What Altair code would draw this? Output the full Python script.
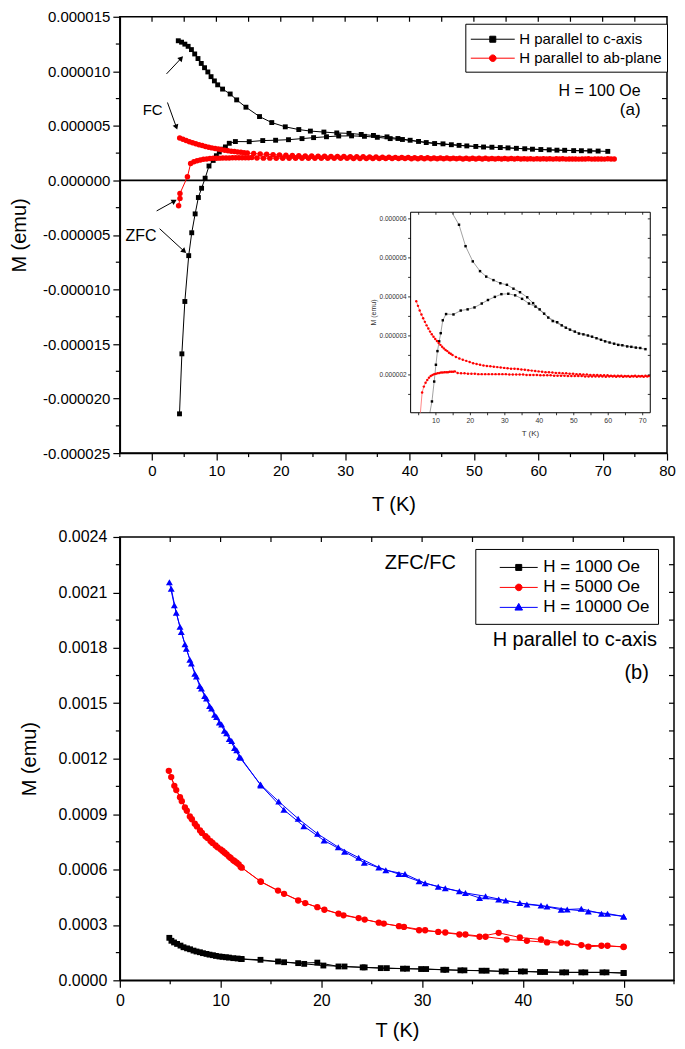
import math
import altair as alt
import pandas as pd

FONT = "Liberation Sans"

# ================= Panel (a): H = 100 Oe  (T in K, M in 1e-6 emu) =================
c_fc_T = [4.08, 4.59, 5.10, 5.61, 6.12, 6.63, 7.14, 7.65, 8.16, 8.67, 9.17, 9.69, 10.20, 10.96,
          12.14, 13.15, 14.59, 16.70, 18.60, 20.70, 22.80, 24.60, 26.70, 28.70, 30.60, 32.50,
          34.40, 36.50, 38.20, 40.10, 42.60, 45.20, 47.70, 50.30, 52.80, 55.30, 57.90, 60.40,
          62.90, 65.50, 68.00, 70.80]
c_fc_M = [12.80, 12.67, 12.49, 12.29, 11.99, 11.59, 11.17, 10.72, 10.33, 9.94, 9.51, 9.12, 8.76,
          8.37, 7.92, 7.38, 6.71, 5.85, 5.30, 4.91, 4.66, 4.52, 4.43, 4.35, 4.31, 4.21, 4.12, 3.99,
          3.84, 3.68, 3.47, 3.35, 3.21, 3.11, 3.04, 2.98, 2.90, 2.83, 2.77, 2.73, 2.70, 2.66]
c_zfc_T = [4.27, 4.64, 5.10, 5.70, 6.17, 6.70, 7.20, 7.70, 8.25, 8.85, 9.50, 10.00, 10.45, 10.95,
           11.40, 12.00, 12.95, 15.10, 17.20, 19.20, 21.20, 23.30, 25.10, 27.10, 29.00, 31.00,
           33.00, 35.00, 37.00, 38.90, 41.40, 43.90, 46.50, 48.90, 51.50, 54.10, 56.60, 59.10,
           61.70, 64.10, 66.70, 69.30]
c_zfc_M = [-21.40, -15.90, -11.10, -6.90, -4.80, -3.07, -1.57, -0.72, 0.20, 1.32, 1.83, 2.26,
           2.61, 2.86, 3.07, 3.40, 3.56, 3.55, 3.65, 3.68, 3.73, 3.83, 3.92, 4.00, 4.07, 4.08,
           4.04, 3.95, 3.83, 3.75, 3.57, 3.38, 3.27, 3.16, 3.06, 3.01, 2.94, 2.86, 2.80, 2.76,
           2.72, 2.69]
ab_fc_T = [4.3, 4.8, 5.3, 5.8, 6.3, 6.8, 7.3, 7.8, 8.3, 8.8, 9.3, 9.8, 10.3, 10.8, 11.3, 11.8,
           12.3, 12.8, 13.3, 13.8, 14.3, 14.8, 15.8, 16.8, 17.8, 18.8, 19.8, 20.8, 21.8, 22.8,
           23.8, 24.8, 25.8, 26.8, 27.8, 28.8, 29.8, 30.8, 31.8, 32.8, 33.8, 34.8, 35.8, 36.8,
           37.8, 38.8, 39.8, 40.8, 41.8, 42.8, 43.8, 44.8, 45.8, 46.8, 47.8, 48.8, 49.8, 50.8,
           51.8, 52.8, 53.8, 54.8, 55.8, 56.8, 57.8, 58.8, 59.8, 60.8, 61.8, 62.8, 63.8, 64.8,
           65.8, 66.8, 67.8, 68.8, 69.8, 70.8, 71.8]
ab_fc_M = [3.89, 3.77, 3.65, 3.55, 3.45, 3.36, 3.27, 3.19, 3.11, 3.04, 2.98, 2.92, 2.87, 2.82,
           2.77, 2.72, 2.68, 2.64, 2.61, 2.57, 2.54, 2.51, 2.46, 2.42, 2.39, 2.36, 2.33, 2.30,
           2.28, 2.26, 2.24, 2.23, 2.22, 2.21, 2.20, 2.19, 2.18, 2.17, 2.16, 2.16, 2.15, 2.14,
           2.13, 2.12, 2.11, 2.10, 2.09, 2.08, 2.07, 2.07, 2.06, 2.05, 2.05, 2.04, 2.04, 2.03,
           2.03, 2.02, 2.02, 2.01, 2.01, 2.00, 2.00, 2.00, 1.99, 1.99, 1.99, 1.98, 1.98, 1.98,
           1.98, 1.97, 1.97, 1.97, 1.98, 1.97, 1.97, 1.98, 1.97]
ab_zfc_T = [4.13, 4.34, 4.34, 5.5, 6.0, 6.5, 7.0, 7.5, 8.0, 8.5, 9.0, 9.5, 10.0, 10.5, 11.0, 11.5,
            12.0, 12.5, 13.0, 13.5, 14.0, 14.5, 15.0, 15.5, 16.3, 17.3, 18.3, 19.3, 20.3, 21.3,
            22.3, 23.3, 24.3, 25.3, 26.3, 27.3, 28.3, 29.3, 30.3, 31.3, 32.3, 33.3, 34.3, 35.3,
            36.3, 37.3, 38.3, 39.3, 40.3, 41.3, 42.3, 43.3, 44.3, 45.3, 46.3, 47.3, 48.3, 49.3,
            50.3, 51.3, 52.3, 53.3, 54.3, 55.3, 56.3, 57.3, 58.3, 59.3, 60.3, 61.3, 62.3, 63.3,
            64.3, 65.3, 66.3, 67.3, 68.3, 69.3, 70.3, 71.3]
ab_zfc_M = [-2.32, -1.65, -1.20, 0.33, 1.55, 1.70, 1.80, 1.87, 1.93, 1.97, 2.00, 2.02, 2.03, 2.04,
            2.05, 2.06, 2.06, 2.07, 2.07, 2.07, 2.08, 2.08, 2.08, 2.09, 2.05, 2.04, 2.04, 2.03,
            2.03, 2.03, 2.02, 2.02, 2.02, 2.02, 2.02, 2.02, 2.02, 2.02, 2.02, 2.01, 2.01, 2.01,
            2.01, 2.01, 2.00, 2.00, 2.00, 2.00, 1.99, 1.99, 1.99, 1.99, 1.98, 1.98, 1.98, 1.98,
            1.97, 1.97, 1.97, 1.97, 1.97, 1.96, 1.96, 1.96, 1.96, 1.96, 1.96, 1.95, 1.96, 1.96,
            1.95, 1.96, 1.95, 1.96, 1.95, 1.96, 1.95, 1.96, 1.95, 1.96]

# annotations of panel (a)
arrow_T1 = [2.25, 2.40, 0.72, 1.18]
arrow_M1 = [9.76, 7.14, -2.80, -4.43]
arrow_T2 = [4.54, 3.78, 3.47, 5.00]
arrow_M2 = [11.20, 4.88, -1.90, -6.50]
a_right_text = ["H = 100 Oe", "(a)"]
a_right_T = [75.9, 75.9]
a_right_M = [8.22, 6.41]
a_right_size = [16, 17]
a_mid_text = ["FC", "ZFC"]
a_mid_T = [0.1, -1.7]
a_mid_M = [6.41, -5.06]
a_mid_size = [15, 16]
names_a = ["H parallel to c-axis", "H parallel to ab-plane"]

# ticks of panel (a)
a_x_major = [0, 10, 20, 30, 40, 50, 60, 70, 80]
a_x_minor = [-5, 5, 15, 25, 35, 45, 55, 65, 75]
a_y_major = [-25, -20, -15, -10, -5, 0, 5, 10, 15]
a_y_minor = [-22.5, -17.5, -12.5, -7.5, -2.5, 2.5, 7.5, 12.5]
a_top = [0, 5, 10, 15, 20, 25, 30, 35, 40, 45, 50, 55, 60, 65, 70, 75]
a_right = [-22.5, -20, -17.5, -15, -12.5, -10, -7.5, -5, -2.5, 0, 2.5, 5, 7.5, 10, 12.5]
# inset axes
i_x_ticks = [5, 10, 15, 20, 25, 30, 35, 40, 45, 50, 55, 60, 65, 70]
i_x_label_vals = [10, 20, 30, 40, 50, 60, 70]
i_x_labels = ["10", "20", "30", "40", "50", "60", "70"]
i_y_ticks = [1.5, 2, 2.5, 3, 3.5, 4, 4.5, 5, 5.5, 6]
i_y_label_vals = [2, 3, 4, 5, 6]
i_y_labels = ["0.000002", "0.000003", "0.000004", "0.000005", "0.000006"]

# ================= Panel (b): H parallel to c-axis (T in K, M in 1e-4 emu) =================
b1_zfc_T = [4.91, 5.38, 6.02, 6.67, 7.31, 7.95, 8.60, 9.24, 9.89, 10.53, 11.26, 12.03, 13.96,
            15.70, 17.70, 19.60, 21.70, 24.10, 25.90, 28.10, 29.90, 32.10, 33.80, 35.90, 37.90,
            39.80, 41.70, 43.90, 45.80, 47.90, 50.00]
b1_zfc_M = [2.30, 2.05, 1.88, 1.73, 1.61, 1.52, 1.43, 1.36, 1.29, 1.25, 1.20, 1.16, 1.11, 1.02,
            0.93, 0.96, 0.75, 0.70, 0.66, 0.63, 0.61, 0.57, 0.54, 0.52, 0.48, 0.48, 0.45, 0.43,
            0.43, 0.43, 0.39]
b1_fc_T = [5.12, 5.68, 6.32, 6.97, 7.61, 8.25, 8.90, 9.54, 10.19, 10.83, 11.69, 12.10, 16.30,
           18.30, 20.20, 22.30, 24.30, 26.50, 28.50, 30.40, 32.40, 34.20, 36.40, 38.30, 40.20,
           42.20, 44.30, 46.20, 48.30, 50.00]
b1_fc_M = [2.14, 1.97, 1.79, 1.68, 1.56, 1.47, 1.39, 1.32, 1.27, 1.23, 1.18, 1.15, 0.98, 0.89,
           0.80, 0.75, 0.70, 0.66, 0.63, 0.61, 0.57, 0.54, 0.52, 0.48, 0.48, 0.45, 0.43, 0.43,
           0.43, 0.40]
b5_zfc_T = [4.86, 5.41, 5.97, 6.46, 6.95, 7.44, 7.96, 8.50, 9.00, 9.50, 10.00, 10.40, 10.83,
            11.25, 11.60, 12.00, 13.96, 15.70, 17.70, 19.60, 21.70, 23.70, 25.70, 27.70, 29.70,
            31.60, 33.70, 35.70, 37.60, 39.70, 41.80, 43.80, 45.80, 47.80, 50.00]
b5_zfc_M = [11.34, 10.53, 9.91, 9.36, 8.87, 8.48, 8.11, 7.80, 7.54, 7.30, 7.09, 6.91, 6.70, 6.50,
            6.37, 6.14, 5.36, 4.86, 4.32, 3.96, 3.61, 3.37, 3.12, 2.93, 2.71, 2.62, 2.48, 2.36,
            2.57, 2.32, 2.21, 2.04, 1.91, 1.87, 1.82]
b5_fc_T = [5.10, 5.60, 6.15, 6.65, 7.15, 7.65, 8.15, 8.70, 9.20, 9.70, 10.20, 10.60, 11.00,
           11.40, 11.80, 12.10, 14.00, 16.30, 18.40, 20.30, 22.20, 24.30, 26.20, 28.20, 30.30,
           32.30, 34.30, 36.30, 38.40, 40.40, 42.40, 44.40, 46.50, 48.40, 50.00]
b5_fc_M = [11.00, 10.30, 9.70, 9.18, 8.72, 8.33, 7.98, 7.70, 7.44, 7.20, 7.00, 6.82, 6.62, 6.45,
           6.28, 6.10, 5.33, 4.68, 4.18, 3.82, 3.52, 3.29, 3.07, 2.89, 2.71, 2.59, 2.48, 2.36,
           2.21, 2.14, 2.05, 2.00, 1.82, 1.87, 1.80]
b10_zfc_T = [4.92, 5.41, 5.97, 6.46, 6.95, 7.44, 7.93, 8.42, 8.91, 9.40, 9.88, 10.37, 10.86,
             11.38, 11.87, 13.96, 15.77, 17.70, 19.62, 21.68, 23.70, 25.70, 27.70, 29.70, 31.60,
             33.70, 35.70, 37.60, 39.70, 41.80, 43.80, 45.80, 47.80, 50.00]
b10_zfc_M = [21.55, 20.30, 19.14, 18.19, 17.35, 16.60, 15.93, 15.39, 14.85, 14.37, 13.96, 13.51,
             13.07, 12.57, 12.09, 10.60, 9.68, 8.75, 7.93, 7.21, 6.64, 6.11, 5.75, 5.36, 5.07,
             4.82, 4.46, 4.37, 4.18, 4.05, 3.82, 3.87, 3.61, 3.46]
b10_fc_T = [5.10, 5.60, 6.10, 6.60, 7.10, 7.60, 8.10, 8.60, 9.10, 9.60, 10.10, 10.60, 11.10,
            11.60, 12.00, 14.00, 16.28, 18.26, 20.27, 22.30, 24.26, 26.40, 28.30, 30.30, 32.30,
            34.30, 36.30, 38.30, 40.40, 42.40, 44.40, 46.50, 48.40, 50.00]
b10_fc_M = [21.20, 19.90, 18.85, 17.95, 17.15, 16.45, 15.80, 15.25, 14.72, 14.25, 13.85, 13.38,
            12.95, 12.45, 12.05, 10.55, 9.23, 8.34, 7.57, 6.96, 6.37, 5.96, 5.75, 5.25, 4.98,
            4.73, 4.55, 4.32, 4.11, 4.00, 3.84, 3.73, 3.61, 3.46]
names_b = ["H = 1000 Oe", "H = 5000 Oe", "H = 10000 Oe"]
b_text_left = ["ZFC/FC"]
b_left_T = [26.3]
b_left_M = [22.6]
b_text_right = ["H parallel to c-axis", "(b)"]
b_right_T = [53.3, 52.5]
b_right_M = [18.40, 16.65]

b_x_major = [0, 10, 20, 30, 40, 50]
b_x_minor = [5, 15, 25, 35, 45, 55]
b_y_major = [0, 3, 6, 9, 12, 15, 18, 21, 24]
b_y_minor = [1.5, 4.5, 7.5, 10.5, 13.5, 16.5, 19.5, 22.5]
b_top = [5, 10, 15, 20, 25, 30, 35, 40, 45, 50]
b_right = [1.5, 3, 4.5, 6, 7.5, 9, 10.5, 12, 13.5, 15, 16.5, 18, 19.5, 21, 22.5]

# ================= layout / style =================
W1, H1 = 548, 437
W2, H2 = 555, 444
XA_DOM = [-5, 80]
YA_DOM = [-25e-6, 15e-6]
XI_DOM = [2.66, 72.2]
YI_DOM = [1.03e-6, 6.17e-6]
INSET_T = [40.17, 77.4]
INSET_M = [-21.3e-6, -2.92e-6]
XB_DOM = [0, 55]
YB_DOM = [0, 0.0024]

SQ = "M-2.2,0H2.2M-0.3,-0.3H0.3V0.3H-0.3Z"
CI = "M-2.2,0H2.2M0.33,0A0.33,0.33,0,1,1,-0.33,0A0.33,0.33,0,1,1,0.33,0Z"
SQ_B = "M-1.9,0H1.9M-0.3,-0.3H0.3V0.3H-0.3Z"
CI_B = "M-1.9,0H1.9M0.33,0A0.33,0.33,0,1,1,-0.33,0A0.33,0.33,0,1,1,0.33,0Z"
TR_B = "M-1.9,0H1.9M0,-0.4L0.38,0.27H-0.38Z"


def px_x(T):
    return (T - XA_DOM[0]) / (XA_DOM[1] - XA_DOM[0]) * W1


def px_y(M):
    return (YA_DOM[1] - M) / (YA_DOM[1] - YA_DOM[0]) * H1


ix0, ix1 = px_x(INSET_T[0]), px_x(INSET_T[1])
iy0, iy1 = px_y(INSET_M[0]), px_y(INSET_M[1])


def curve(T, M, factor, branch):
    return pd.DataFrame({"T": T, "M": [m * factor for m in M], "branch": branch,
                         "i": list(range(len(T)))})


# ---------- panel (a) encodings ----------
scA_x = alt.Scale(domain=XA_DOM, nice=False, zero=False)
scA_y = alt.Scale(domain=YA_DOM, nice=False, zero=False)
axA_x = alt.Axis(values=a_x_major, title="T (K)", labelFontSize=15, titleFontSize=20, tickSize=7,
                 tickWidth=1.2, labelPadding=3, titlePadding=16, labelFlush=False, domainWidth=1.5,
                 grid=False)
axA_y = alt.Axis(values=[round(v * 1e-6, 9) for v in a_y_major],
                 labelExpr="replace(format(datum.value, '.6f'), '\u2212', '-')",
                 title="M (emu)", labelFontSize=15, titleFontSize=20, tickSize=7, tickWidth=1.2,
                 labelPadding=3, titlePadding=13, domainWidth=1.5, grid=False)


def xA(f="T"):
    return alt.X(f"{f}:Q", scale=scA_x, axis=axA_x)


def yA(f="M"):
    return alt.Y(f"{f}:Q", scale=scA_y, axis=axA_y)


c_df = pd.concat([curve(c_fc_T, c_fc_M, 1e-6, "FC"), curve(c_zfc_T, c_zfc_M, 1e-6, "ZFC")])
ab_df = pd.concat([curve(ab_fc_T, ab_fc_M, 1e-6, "FC"), curve(ab_zfc_T, ab_zfc_M, 1e-6, "ZFC")])

zero_rule = alt.Chart(pd.DataFrame({"M": [0.0]})).mark_rule(color="black", strokeWidth=1.6).encode(y=yA())
c_line = alt.Chart(c_df).mark_line(color="black", strokeWidth=1).encode(
    x=xA(), y=yA(), detail="branch:N", order="i:Q")
c_pts = alt.Chart(c_df).mark_square(color="black", size=24, opacity=1).encode(x=xA(), y=yA())
ab_line = alt.Chart(ab_df).mark_line(color="red", strokeWidth=1).encode(
    x=xA(), y=yA(), detail="branch:N", order="i:Q")
ab_pts = alt.Chart(ab_df).mark_circle(color="red", size=30, opacity=1).encode(x=xA(), y=yA())

tickA_xmin = alt.Chart(pd.DataFrame({"T": a_x_minor})).mark_rule(color="black", strokeWidth=1.2).encode(
    x=xA(), y=alt.value(H1), y2=alt.value(H1 + 4))
tickA_ymin = alt.Chart(pd.DataFrame({"M": [v * 1e-6 for v in a_y_minor]})).mark_rule(
    color="black", strokeWidth=1.2).encode(y=yA(), x=alt.value(0), x2=alt.value(-4))
tickA_top = alt.Chart(pd.DataFrame({"T": a_top})).mark_rule(color="black", strokeWidth=1.2).encode(
    x=xA(), y=alt.value(0), y2=alt.value(5))
tickA_right = alt.Chart(pd.DataFrame({"M": [v * 1e-6 for v in a_right]})).mark_rule(
    color="black", strokeWidth=1.2).encode(y=yA(), x=alt.value(W1), x2=alt.value(W1 - 5))

pxT = W1 / (XA_DOM[1] - XA_DOM[0])
pxM = H1 / (YA_DOM[1] - YA_DOM[0])
angles = []
for t1, m1, t2, m2 in zip(arrow_T1, arrow_M1, arrow_T2, arrow_M2):
    dx = (t2 - t1) * pxT
    dy = -(m2 - m1) * 1e-6 * pxM
    angles.append(math.degrees(math.atan2(dx, -dy)) % 360)
arrow_df = pd.DataFrame({"T1": arrow_T1, "M1": [m * 1e-6 for m in arrow_M1],
                         "T2": arrow_T2, "M2": [m * 1e-6 for m in arrow_M2], "ang": angles})
arrow_shaft = alt.Chart(arrow_df).mark_rule(color="black", strokeWidth=1).encode(
    x=xA("T1"), y=yA("M1"), x2=alt.X2("T2"), y2=alt.Y2("M2"))
arrow_head = alt.Chart(arrow_df).mark_point(shape="triangle-up", filled=True, color="black",
                                            size=36, opacity=1).encode(
    x=xA("T2"), y=yA("M2"), angle=alt.Angle("ang:Q", scale=None))

txtA_right = alt.Chart(pd.DataFrame({"T": a_right_T, "M": [m * 1e-6 for m in a_right_M],
                                     "txt": a_right_text, "fs": a_right_size})).mark_text(
    align="right", baseline="middle", font=FONT, color="black").encode(
    x=xA(), y=yA(), text="txt:N", size=alt.Size("fs:Q", scale=None))
txtA_mid = alt.Chart(pd.DataFrame({"T": a_mid_T, "M": [m * 1e-6 for m in a_mid_M],
                                   "txt": a_mid_text, "fs": a_mid_size})).mark_text(
    align="center", baseline="middle", font=FONT, color="black").encode(
    x=xA(), y=yA(), text="txt:N", size=alt.Size("fs:Q", scale=None))

legA = alt.Legend(title=None, orient="none", legendX=346, legendY=7, strokeColor="black",
                  fillColor="white", padding=5, labelFont=FONT, labelFontSize=15,
                  labelColor="black", symbolSize=400, symbolStrokeWidth=1, symbolOpacity=1,
                  symbolOffset=12, labelOffset=16, rowPadding=0)
leg_df_a = pd.DataFrame({"T": [c_fc_T[0], ab_fc_T[0]], "M": [c_fc_M[0] * 1e-6, ab_fc_M[0] * 1e-6],
                         "series": names_a})
leg_a = alt.Chart(leg_df_a).mark_point(filled=True, opacity=0).encode(
    x=xA(), y=yA(),
    fill=alt.Fill("series:N", scale=alt.Scale(domain=names_a, range=["black", "red"]), legend=legA),
    stroke=alt.Stroke("series:N", scale=alt.Scale(domain=names_a, range=["black", "red"]), legend=legA),
    shape=alt.Shape("series:N", scale=alt.Scale(domain=names_a, range=[SQ, CI]), legend=legA))

main_a = alt.layer(zero_rule, c_line, c_pts, ab_line, ab_pts, tickA_xmin, tickA_ymin, tickA_top,
                   tickA_right, arrow_shaft, arrow_head, txtA_right, txtA_mid, leg_a)

# ---------- inset (own scales mapped into a sub-rectangle of panel a) ----------
scI_x = alt.Scale(domain=XI_DOM, range=[ix0, ix1], nice=False, zero=False)
scI_y = alt.Scale(domain=YI_DOM, range=[iy0, iy1], nice=False, zero=False, clamp=True)
axI_x = alt.Axis(orient="bottom", labels=False, ticks=False, domain=False, grid=False, title=None)
axI_y = alt.Axis(orient="left", labels=False, ticks=False, domain=False, grid=False, title=None)


def xI(f="T"):
    return alt.X(f"{f}:Q", scale=scI_x, axis=axI_x)


def yI(f="M"):
    return alt.Y(f"{f}:Q", scale=scI_y, axis=axI_y)


c_in_line = c_df[((c_df.branch == "FC") & (c_df["T"] >= 14.5)) | ((c_df.branch == "ZFC") & (c_df["T"] >= 8.2))]
ab_in_line = ab_df[(ab_df.branch == "FC") | (ab_df["T"] >= 5.4)]
c_in_pts = c_df[(c_df["M"] >= YI_DOM[0]) & (c_df["M"] <= YI_DOM[1])]
ab_in_pts = ab_df[(ab_df["M"] >= YI_DOM[0]) & (ab_df["M"] <= YI_DOM[1])]

frame_i = alt.Chart(pd.DataFrame({"T": [XI_DOM[0]], "T2": [XI_DOM[1]], "M": [YI_DOM[0]],
                                  "M2": [YI_DOM[1]]})).mark_rect(
    fillOpacity=0, stroke="black", strokeWidth=1).encode(
    x=xI(), x2=alt.X2("T2"), y=yI(), y2=alt.Y2("M2"))
ci_line = alt.Chart(c_in_line).mark_line(color="#8a8a8a", strokeWidth=0.8).encode(
    x=xI(), y=yI(), detail="branch:N", order="i:Q")
ci_pts = alt.Chart(c_in_pts).mark_square(color="black", size=6, opacity=1).encode(x=xI(), y=yI())
abi_line = alt.Chart(ab_in_line).mark_line(color="#ff6a6a", strokeWidth=0.8).encode(
    x=xI(), y=yI(), detail="branch:N", order="i:Q")
abi_pts = alt.Chart(ab_in_pts).mark_circle(color="red", size=6, opacity=1).encode(x=xI(), y=yI())

n_ix, n_iy = len(i_x_ticks), len(i_y_ticks)
ixb_df = pd.DataFrame({"T": i_x_ticks, "M": [YI_DOM[0]] * n_ix})
ixt_df = pd.DataFrame({"T": i_x_ticks, "M": [YI_DOM[1]] * n_ix})
iyl_df = pd.DataFrame({"T": [XI_DOM[0]] * n_iy, "M": [v * 1e-6 for v in i_y_ticks]})
iyr_df = pd.DataFrame({"T": [XI_DOM[1]] * n_iy, "M": [v * 1e-6 for v in i_y_ticks]})
tickI_top = alt.Chart(ixt_df).mark_rule(color="black", strokeWidth=0.8, y2Offset=2.5).encode(
    x=xI(), y=yI(), y2=alt.Y2("M"))
tickI_bot = alt.Chart(ixb_df).mark_rule(color="black", strokeWidth=0.8, y2Offset=2.5).encode(
    x=xI(), y=yI(), y2=alt.Y2("M"))
tickI_left = alt.Chart(iyl_df).mark_rule(color="black", strokeWidth=0.8, x2Offset=-2.5).encode(
    x=xI(), x2=alt.X2("T"), y=yI())
tickI_right = alt.Chart(iyr_df).mark_rule(color="black", strokeWidth=0.8, x2Offset=-2.5).encode(
    x=xI(), x2=alt.X2("T"), y=yI())
labI_x = alt.Chart(pd.DataFrame({"T": i_x_label_vals, "M": [YI_DOM[0]] * len(i_x_label_vals),
                                 "lab": i_x_labels})).mark_text(
    align="center", baseline="top", dy=4, font=FONT, fontSize=7, color="#333333").encode(
    x=xI(), y=yI(), text="lab:N")
labI_y = alt.Chart(pd.DataFrame({"T": [XI_DOM[0]] * len(i_y_label_vals),
                                 "M": [v * 1e-6 for v in i_y_label_vals], "lab": i_y_labels})).mark_text(
    align="right", baseline="middle", dx=-4, font=FONT, fontSize=6.5, color="#333333").encode(
    x=xI(), y=yI(), text="lab:N")
titI_x = alt.Chart(pd.DataFrame({"T": [(XI_DOM[0] + XI_DOM[1]) / 2], "M": [YI_DOM[0]],
                                 "t": ["T (K)"]})).mark_text(
    align="center", baseline="middle", dy=21, font=FONT, fontSize=8, color="#333333").encode(
    x=xI(), y=yI(), text="t:N")
titI_y = alt.Chart(pd.DataFrame({"T": [XI_DOM[0]], "M": [(YI_DOM[0] + YI_DOM[1]) / 2],
                                 "t": ["M (emu)"]})).mark_text(
    align="center", baseline="middle", dy=-37, font=FONT, fontSize=7, angle=270,
    color="#333333").encode(x=xI(), y=yI(), text="t:N")

inset = alt.layer(ci_line, frame_i, ci_pts, abi_line, abi_pts, tickI_top, tickI_bot, tickI_right,
                  tickI_left, labI_x, labI_y, titI_x, titI_y)

top = alt.layer(main_a, inset).resolve_scale(x="independent", y="independent").properties(
    width=W1, height=H1)

# ---------- panel (b) ----------
scB_x = alt.Scale(domain=XB_DOM, nice=False, zero=False)
scB_y = alt.Scale(domain=YB_DOM, nice=False, zero=False)
axB_x = alt.Axis(values=b_x_major, title="T (K)", labelFontSize=16, titleFontSize=20, tickSize=7,
                 tickWidth=1.2, labelPadding=5, titlePadding=12, labelFlush=False, domainWidth=1.5,
                 grid=False)
axB_y = alt.Axis(values=[round(v * 1e-4, 6) for v in b_y_major], format=".4f", title="M (emu)",
                 labelFontSize=16, titleFontSize=20, tickSize=7, tickWidth=1.2, labelPadding=6,
                 titlePadding=19, domainWidth=1.5, grid=False)


def xB(f="T"):
    return alt.X(f"{f}:Q", scale=scB_x, axis=axB_x)


def yB(f="M"):
    return alt.Y(f"{f}:Q", scale=scB_y, axis=axB_y)


b1_df = pd.concat([curve(b1_zfc_T, b1_zfc_M, 1e-4, "ZFC"), curve(b1_fc_T, b1_fc_M, 1e-4, "FC")])
b5_df = pd.concat([curve(b5_zfc_T, b5_zfc_M, 1e-4, "ZFC"), curve(b5_fc_T, b5_fc_M, 1e-4, "FC")])
b10_df = pd.concat([curve(b10_zfc_T, b10_zfc_M, 1e-4, "ZFC"), curve(b10_fc_T, b10_fc_M, 1e-4, "FC")])

layers_b = []
for df, col, mk, sz in [(b1_df, "black", "square", 34), (b5_df, "red", "circle", 40),
                        (b10_df, "#0000ff", "triangle-up", 48)]:
    layers_b.append(alt.Chart(df).mark_line(color=col, strokeWidth=1).encode(
        x=xB(), y=yB(), detail="branch:N", order="i:Q"))
    layers_b.append(alt.Chart(df).mark_point(shape=mk, filled=True, color=col, size=sz, opacity=1).encode(
        x=xB(), y=yB()))

tickB_xmin = alt.Chart(pd.DataFrame({"T": b_x_minor})).mark_rule(color="black", strokeWidth=1.2).encode(
    x=xB(), y=alt.value(H2), y2=alt.value(H2 + 4))
tickB_ymin = alt.Chart(pd.DataFrame({"M": [v * 1e-4 for v in b_y_minor]})).mark_rule(
    color="black", strokeWidth=1.2).encode(y=yB(), x=alt.value(0), x2=alt.value(-4))
tickB_top = alt.Chart(pd.DataFrame({"T": b_top})).mark_rule(color="black", strokeWidth=1.2).encode(
    x=xB(), y=alt.value(0), y2=alt.value(5))
tickB_right = alt.Chart(pd.DataFrame({"M": [v * 1e-4 for v in b_right]})).mark_rule(
    color="black", strokeWidth=1.2).encode(y=yB(), x=alt.value(W2), x2=alt.value(W2 - 5))

txtB_left = alt.Chart(pd.DataFrame({"T": b_left_T, "M": [m * 1e-4 for m in b_left_M],
                                    "txt": b_text_left})).mark_text(
    align="left", baseline="middle", font=FONT, fontSize=20, color="black").encode(
    x=xB(), y=yB(), text="txt:N")
txtB_right = alt.Chart(pd.DataFrame({"T": b_right_T, "M": [m * 1e-4 for m in b_right_M],
                                     "txt": b_text_right})).mark_text(
    align="right", baseline="middle", font=FONT, fontSize=20, color="black").encode(
    x=xB(), y=yB(), text="txt:N")

legB = alt.Legend(title=None, orient="none", legendX=356, legendY=12, strokeColor="black",
                  fillColor="white", padding=8, labelFont=FONT, labelFontSize=17,
                  labelColor="black", symbolSize=400, symbolStrokeWidth=1, symbolOpacity=1,
                  symbolOffset=25, labelOffset=14, rowPadding=1)
names_b_df = pd.DataFrame({"T": [b1_zfc_T[0], b5_zfc_T[0], b10_zfc_T[0]],
                           "M": [b1_zfc_M[0] * 1e-4, b5_zfc_M[0] * 1e-4, b10_zfc_M[0] * 1e-4],
                           "series": names_b})
cols_b = ["black", "red", "#0000ff"]
leg_b = alt.Chart(names_b_df).mark_point(filled=True, opacity=0).encode(
    x=xB(), y=yB(),
    fill=alt.Fill("series:N", scale=alt.Scale(domain=names_b, range=cols_b), legend=legB),
    stroke=alt.Stroke("series:N", scale=alt.Scale(domain=names_b, range=cols_b), legend=legB),
    shape=alt.Shape("series:N", scale=alt.Scale(domain=names_b, range=[SQ_B, CI_B, TR_B]), legend=legB))

bottom = alt.layer(*layers_b, tickB_xmin, tickB_ymin, tickB_top, tickB_right, txtB_left,
                   txtB_right, leg_b).properties(width=W2, height=H2)

chart = alt.concat(top, bottom, columns=1, spacing=13).properties(
    padding={"left": 0, "top": 0, "right": 0, "bottom": 0})
chart = chart.resolve_scale(fill="independent", stroke="independent", shape="independent")
chart = chart.configure_view(stroke="black", strokeWidth=1.5).configure_axis(
    labelFont=FONT, titleFont=FONT, labelColor="black", titleColor="black", domainColor="black",
    tickColor="black", titleFontWeight="normal", grid=False).configure_text(font=FONT).configure_legend(
    labelFont=FONT, labelColor="black")

chart.save("out.html", embed_options={"renderer": "svg", "actions": False})
